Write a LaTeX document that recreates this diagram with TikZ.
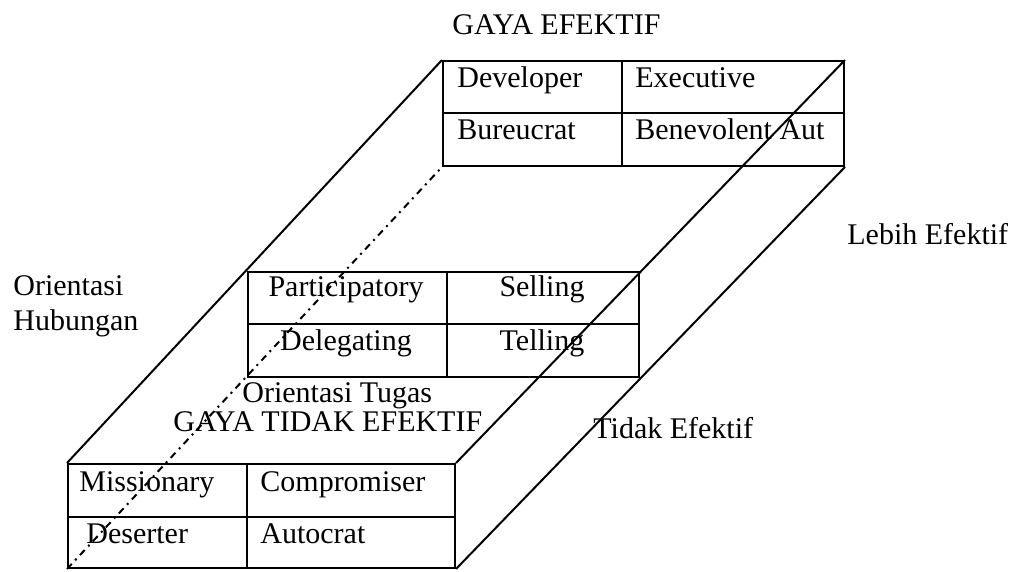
\documentclass[tikz,border=0pt]{standalone}
\usepackage{fontspec}
\setmainfont{Liberation Serif}
\usetikzlibrary{calc}
\begin{document}
\begin{tikzpicture}[x=0.5pt,y=-0.5pt,
  cell/.style={draw, line width=1pt, rectangle, inner sep=0pt, anchor=north west},
  lbl/.style={inner sep=0pt, font=\fontsize{15pt}{18pt}\selectfont, anchor=base west},
  lblc/.style={lbl, anchor=base},
  edgeline/.style={line width=1pt},
  hiddenline/.style={line width=1pt, dash pattern=on 3.5pt off 2.5pt on 1pt off 2.5pt}]
\fill[white] (0,0) rectangle (1014,572);
\useasboundingbox (0,0) rectangle (1014,572);

% top table (effective)
\node[cell, minimum width=89.5pt, minimum height=26pt] (T11) at (442,60) {};
\node[cell, minimum width=111pt, minimum height=26pt] (T12) at (621,60) {};
\node[cell, minimum width=89.5pt, minimum height=26.5pt] (T21) at (442,112) {};
\node[cell, minimum width=111pt, minimum height=26.5pt] (T22) at (621,112) {};

% middle table
\node[cell, minimum width=99.5pt, minimum height=26pt] (M11) at (247,271) {};
\node[cell, minimum width=96pt, minimum height=26pt] (M12) at (446,271) {};
\node[cell, minimum width=99.5pt, minimum height=26.5pt] (M21) at (247,323) {};
\node[cell, minimum width=96pt, minimum height=26.5pt] (M22) at (446,323) {};

% bottom table (not effective)
\node[cell, minimum width=89.5pt, minimum height=26.5pt] (B11) at (67,463) {};
\node[cell, minimum width=104pt, minimum height=26.5pt] (B12) at (246,463) {};
\node[cell, minimum width=89.5pt, minimum height=25.5pt] (B21) at (67,516) {};
\node[cell, minimum width=104pt, minimum height=25.5pt] (B22) at (246,516) {};

% box edges
\draw[edgeline] (T11.north west) -- (B11.north west);
\draw[edgeline] (T12.north east) -- (B12.north east);
\draw[edgeline] (T22.south east) -- (B22.south east);
\draw[hiddenline] (B21.south west) -- (T21.south west);

% cell texts
\node[lbl] (tDev) at (457,88) {Developer};
\node[lbl] (tExe) at (635,88) {Executive};
\node[lbl] (tBur) at (457,140) {Bureucrat};
\node[lbl] (tBen) at (635,140) {Benevolent Aut};

\node[lblc] (tPar) at (346,297) {Participatory};
\node[lblc] (tSel) at (542,297) {Selling};
\node[lblc] (tDel) at (346,351) {Delegating};
\node[lblc] (tTel) at (542,351) {Telling};

\node[lbl] (tMis) at (79,492) {Missionary};
\node[lbl] (tCom) at (260,492) {Compromiser};
\node[lbl] (tDes) at (86,544) {Deserter};
\node[lbl] (tAut) at (260,544) {Autocrat};

% free labels
\node[lbl] (title1) at (452,35) {GAYA EFEKTIF};
\node[lbl] (oh1) at (13,296) {Orientasi};
\node[lbl] (oh2) at (13,331) {Hubungan};
\node[lbl] (ot) at (242,403) {Orientasi Tugas};
\node[lbl] (title2) at (173,432) {GAYA TIDAK EFEKTIF};
\node[lbl] (lebih) at (847,245) {Lebih Efektif};
\node[lbl] (tidak) at (593,439) {Tidak Efektif};
\end{tikzpicture}
\end{document}
